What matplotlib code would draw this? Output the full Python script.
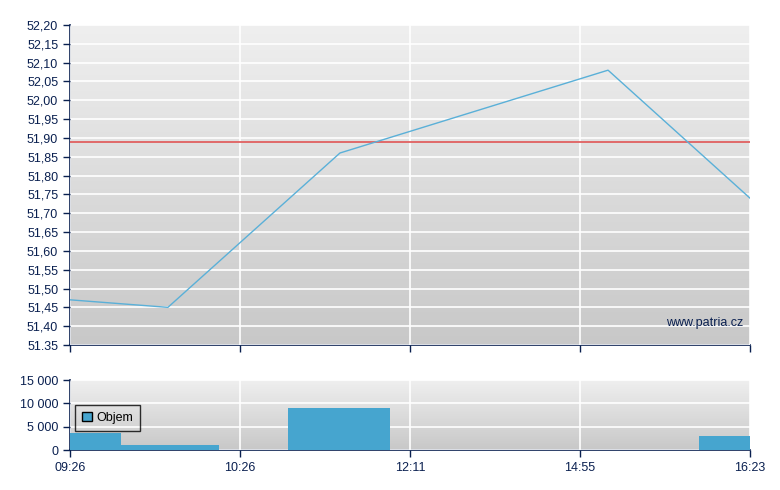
import numpy as np
import matplotlib.pyplot as plt
from matplotlib.colors import LinearSegmentedColormap

plt.rcParams['font.family'] = ['Liberation Sans', 'DejaVu Sans']
plt.rcParams['font.size'] = 9

# price line (x in tick-slot units, 0 = 09:26 ... 4 = 16:23)
price_x = [0, 0.576, 1.588, 3.165, 4.0]
price_y = [51.47, 51.45, 51.86, 52.08, 51.74]
ref_price = 51.89

# volume bars: left edge, right edge, value
vol_left = [0, 0.30, 1.282, 3.70]
vol_right = [0.30, 0.876, 1.882, 4.0]
vol_values = [3600, 1100, 9000, 2900]

tick_labels = ['09:26', '10:26', '12:11', '14:55', '16:23']
price_ticks = [51.35 + 0.05 * i for i in range(18)]
price_tick_labels = ['%.2f' % v for v in price_ticks]
price_tick_labels = [s.replace('.', ',') for s in price_tick_labels]
price_tick_labels[0] = '51.35'
vol_ticks = [0, 5000, 10000, 15000]
vol_tick_labels = ['0', '5 000', '10 000', '15 000']

navy = '#0a2050'
line_col = '#5ab0d8'
bar_col = '#46a5cf'

fig = plt.figure(figsize=(7.8, 4.9), dpi=100)
ax = fig.add_axes([70 / 780, 1 - 345 / 490, 680 / 780, 320 / 490])
axv = fig.add_axes([70 / 780, 1 - 450 / 490, 680 / 780, 70 / 490])

grad = np.linspace(0, 1, 256).reshape(-1, 1)
cmap = LinearSegmentedColormap.from_list('bg', ['#efefef', '#c8c8c8'])

for a in (ax, axv):
    a.imshow(grad, aspect='auto', cmap=cmap, extent=[0, 1, 0, 1],
             transform=a.transAxes, zorder=0)
    a.set_xlim(0, 4)
    a.set_xticks(range(5))
    for s in ('top', 'right'):
        a.spines[s].set_visible(False)
    for s in ('left', 'bottom'):
        a.spines[s].set_color(navy)
        a.spines[s].set_linewidth(1.2)
    a.tick_params(colors=navy, length=5, width=1, labelcolor=navy, labelsize=9)
    a.grid(True, color='white', linewidth=1.2, zorder=1)
    a.set_axisbelow(False)

ax.set_ylim(51.35, 52.20)
ax.set_yticks(price_ticks)
ax.set_yticklabels(price_tick_labels)
ax.set_xticklabels([])
ax.axhline(ref_price, color='#e06060', linewidth=1.3, zorder=3)
ax.plot(price_x, price_y, color=line_col, linewidth=1, zorder=4)
ax.text(0.99, 0.069, 'www.patria.cz', transform=ax.transAxes, ha='right',
        va='center', color=navy, fontsize=9, zorder=5)

axv.set_ylim(0, 15000)
axv.set_yticks(vol_ticks)
axv.set_yticklabels(vol_tick_labels)
axv.set_xticklabels(tick_labels)
widths = [r - l for l, r in zip(vol_left, vol_right)]
axv.bar(vol_left, vol_values, width=widths, align='edge', color=bar_col,
        zorder=3, label='Objem')
leg = axv.legend(loc='upper left', bbox_to_anchor=(0.007, 0.643), frameon=True,
                 fancybox=False, edgecolor='black', facecolor='none',
                 handlelength=0.8, handleheight=0.8, borderpad=0.55,
                 borderaxespad=0, handletextpad=0.35, fontsize=9)
leg.get_frame().set_linewidth(1)
leg.legend_handles[0].set_edgecolor('black')
leg.legend_handles[0].set_linewidth(1)
leg.set_zorder(6)

fig.savefig('out.png', dpi=100)
